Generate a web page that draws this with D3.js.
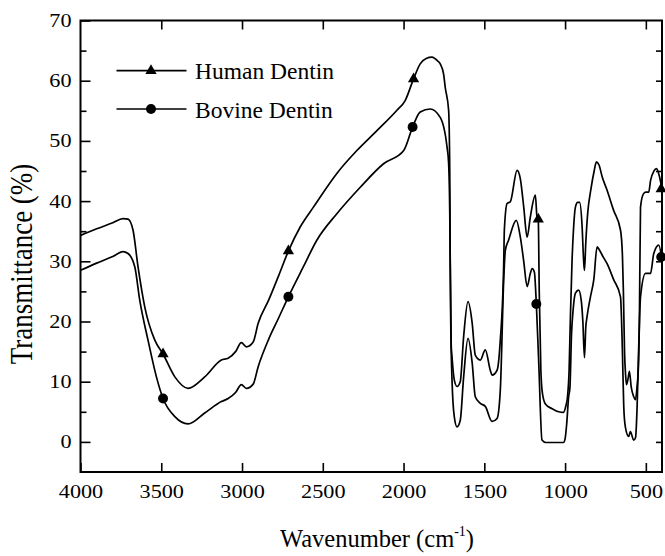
<!DOCTYPE html>
<html>
<head>
<meta charset="utf-8">
<script src="https://cdn.jsdelivr.net/npm/d3@7"></script>
<style>
  html, body { margin: 0; padding: 0; background: #fff; }
  svg { display: block; }
</style>
</head>
<body>
<svg id="chart" width="665" height="556"></svg>
<script>
// FTIR spectra, values (wavenumber in cm-1, transmittance in %)
const humanWn = [4000, 3900, 3800, 3737, 3706, 3675, 3644, 3602, 3540, 3489, 3416, 3334, 3231, 3128, 3086, 3040, 3004, 2973, 2931, 2900,
  2836, 2775, 2713, 2640, 2558, 2413, 2289, 2165, 2041, 1990, 1938, 1897, 1860, 1824, 1790, 1773, 1752, 1742, 1721, 1714,
  1711, 1705, 1700, 1686, 1669, 1649, 1628, 1601, 1575, 1556, 1525, 1494, 1463, 1452, 1421, 1401, 1380, 1376, 1359, 1339,
  1297, 1277, 1256, 1235, 1215, 1184, 1174, 1166, 1160, 1150, 1140, 1122, 1080, 1040, 1010, 995, 985, 975, 967, 957,
  947, 936, 922, 910, 895, 885, 880, 872, 860, 840, 820, 806, 790, 770, 740, 700, 657, 645, 639, 632,
  625, 620, 610, 602, 590, 575, 564, 555, 546, 540, 533, 515, 500, 482, 471, 450, 434, 415, 400];
const humanT = [34.3, 35.4, 36.4, 37.1, 37.0, 35.2, 29.1, 22.4, 16.9, 14.6, 10.8, 8.9, 10.8, 13.6, 13.9, 15.0, 16.5, 15.8, 16.6, 19.7,
  23.5, 27.5, 31.7, 35.7, 39.0, 44.6, 48.4, 51.7, 55.1, 56.7, 60.3, 62.8, 63.7, 63.9, 63.3, 62.8, 61.1, 58.9, 55.1, 45.0,
  30.0, 16.0, 14.1, 10.3, 9.2, 10.0, 17.5, 23.3, 19.7, 14.4, 13.6, 15.3, 11.9, 11.1, 11.9, 16.9, 29.6, 35.2, 39.6, 39.9,
  45.1, 43.7, 39.0, 34.0, 37.4, 41.0, 37.4, 37.0, 25.0, 12.0, 8.0, 6.3, 5.5, 5.0, 4.9, 6.0, 7.5, 12.0, 20.8, 30.0,
  35.7, 39.0, 39.8, 39.8, 36.0, 30.0, 28.5, 33.0, 38.0, 42.0, 45.0, 46.5, 46.0, 44.0, 41.8, 38.5, 35.2, 31.0, 25.0, 15.0,
  11.0, 9.5, 10.5, 11.7, 9.0, 7.5, 7.0, 9.0, 12.5, 20.0, 39.0, 41.2, 41.5, 41.5, 43.4, 45.0, 45.4, 44.0, 42.0];

const bovineWn = [4000, 3900, 3800, 3737, 3706, 3664, 3633, 3582, 3530, 3489, 3416, 3334, 3231, 3128, 3086, 3040, 3004, 2973, 2931, 2900,
  2836, 2775, 2713, 2620, 2537, 2413, 2268, 2124, 1999, 1944, 1897, 1835, 1773, 1731, 1721, 1714, 1708, 1700, 1686, 1669,
  1649, 1628, 1601, 1575, 1556, 1525, 1494, 1452, 1421, 1401, 1380, 1370, 1350, 1302, 1277, 1256, 1235, 1215, 1204, 1190,
  1178, 1163, 1143, 1120, 1010, 1000, 990, 978, 970, 960, 950, 936, 916, 900, 890, 880, 872, 864, 843, 822,
  802, 790, 770, 740, 700, 657, 645, 637, 627, 606, 596, 575, 564, 554, 545, 533, 502, 471, 451, 420, 400];
const bovineT = [28.5, 29.7, 30.8, 31.6, 31.3, 29.1, 23.5, 16.9, 10.8, 7.2, 4.2, 3.0, 4.8, 6.7, 7.2, 8.2, 9.5, 8.9, 9.6, 12.5,
  17.0, 20.5, 24.1, 29.1, 33.5, 37.9, 42.3, 46.2, 48.4, 52.3, 54.8, 55.3, 53.9, 49.0, 46.3, 38.0, 20.0, 10.3, 4.2, 2.5,
  3.6, 10.8, 17.2, 13.1, 7.5, 6.4, 5.9, 3.4, 3.9, 8.6, 26.9, 31.8, 33.5, 36.8, 34.0, 30.0, 25.8, 28.0, 28.8, 28.2,
  22.9, 13.1, 0.3, -0.1, -0.1, 0.5, 3.0, 7.5, 9.0, 18.0, 22.0, 24.7, 25.2, 23.5, 20.0, 14.0, 19.0, 20.8, 24.1, 27.0,
  32.4, 32.0, 31.0, 29.6, 27.0, 24.1, 15.0, 6.0, 2.5, 0.9, 1.7, 0.3, 0.7, 5.9, 15.0, 24.1, 28.0, 28.0, 31.3, 32.7, 30.0];

// symbols drawn on the curves
const humanMarkWn = [3489, 2713, 1938, 1166, 405];
const humanMarkT = [14.6, 31.7, 60.3, 37.0, 42.0];
const bovineMarkWn = [3489, 2713, 1944, 1178, 405];
const bovineMarkT = [7.2, 24.1, 52.3, 22.9, 30.7];

const seriesNames = ["Human Dentin", "Bovine Dentin"];
const xTicks = [4000, 3500, 3000, 2500, 2000, 1500, 1000, 500];
const yTicks = [0, 10, 20, 30, 40, 50, 60, 70];
const yMinorTicks = [5, 15, 25, 35, 45, 55, 65];

const W = 665, H = 556;
const pl = 80.5, pr = 662, pt = 20.5, pb = 472;
const serif = "'Liberation Serif', 'Times New Roman', serif";
const stretch = 1.17;

const svg = d3.select("#chart");
svg.append("rect").attr("width", W).attr("height", H).attr("fill", "#fff");

const x = d3.scaleLinear().domain([4000, 400]).range([pl, pr]);
const y = d3.scaleLinear().domain([-5, 70]).range([pb, pt]);

svg.append("defs").append("clipPath").attr("id", "plotClip")
  .append("rect").attr("x", pl).attr("y", pt).attr("width", pr - pl).attr("height", pb - pt);

// axes, ticks pointing inward
const gx = svg.append("g").attr("transform", `translate(0,${pb})`)
  .call(d3.axisBottom(x).tickValues(xTicks).tickSize(-9).tickPadding(13).tickFormat(d3.format("d")));
gx.selectAll("text").attr("transform", `scale(${stretch},1)`);

svg.append("g").attr("transform", `translate(0,${pt})`)
  .call(d3.axisTop(x).tickValues(xTicks.slice(1)).tickSize(-9).tickFormat(""));

const gy = svg.append("g").attr("transform", `translate(${pl},0)`)
  .call(d3.axisLeft(y).tickValues(yTicks).tickSize(-10).tickPadding(0).tickFormat(d3.format("d")));
gy.selectAll("text").attr("x", 0).attr("transform", `translate(-9,0) scale(${stretch},1)`);

svg.append("g").attr("transform", `translate(${pl},0)`)
  .call(d3.axisLeft(y).tickValues(yMinorTicks).tickSize(-6).tickFormat(""));

svg.append("g").attr("transform", `translate(${pr},0)`)
  .call(d3.axisRight(y).tickValues(yTicks.concat(yMinorTicks).filter(v => v < 70)).tickSize(-6).tickFormat(""));

svg.selectAll(".domain").remove();
svg.selectAll(".tick line").attr("stroke", "#000").attr("stroke-width", 1.6);
svg.selectAll(".tick text").attr("font-family", serif).attr("font-size", 19).attr("fill", "#000");

svg.append("rect")
  .attr("x", pl).attr("y", pt).attr("width", pr - pl).attr("height", pb - pt)
  .attr("fill", "none").attr("stroke", "#000").attr("stroke-width", 2);

// curves
const line = d3.line().x(d => x(d[0])).y(d => y(d[1])).curve(d3.curveMonotoneX);
const plot = svg.append("g").attr("clip-path", "url(#plotClip)");

plot.append("path").datum(d3.zip(humanWn, humanT))
  .attr("d", line).attr("fill", "none").attr("stroke", "#000").attr("stroke-width", 1.7).attr("stroke-linejoin", "round");
plot.append("path").datum(d3.zip(bovineWn, bovineT))
  .attr("d", line).attr("fill", "none").attr("stroke", "#000").attr("stroke-width", 1.7).attr("stroke-linejoin", "round");

const tri = d3.symbol().type(d3.symbolTriangle).size(55);
const dot = d3.symbol().type(d3.symbolCircle).size(78);

svg.append("g").selectAll("path").data(d3.zip(humanMarkWn, humanMarkT)).join("path")
  .attr("d", tri).attr("transform", d => `translate(${x(d[0])},${y(d[1])})`).attr("fill", "#000");
svg.append("g").selectAll("path").data(d3.zip(bovineMarkWn, bovineMarkT)).join("path")
  .attr("d", dot).attr("transform", d => `translate(${x(d[0])},${y(d[1])})`).attr("fill", "#000");

// legend
const legend = svg.append("g");
const legendY = [70.7, 109];
[tri, dot].forEach((sym, i) => {
  legend.append("line").attr("x1", 116.5).attr("x2", 186.5).attr("y1", legendY[i]).attr("y2", legendY[i])
    .attr("stroke", "#000").attr("stroke-width", 1.7);
  legend.append("path").attr("d", sym).attr("transform", `translate(151,${legendY[i]})`).attr("fill", "#000");
  legend.append("text").attr("x", 195).attr("y", legendY[i] + 8.5)
    .attr("font-family", serif).attr("font-size", 23.5).attr("fill", "#000")
    .text(seriesNames[i]);
});

// axis titles
const xt = svg.append("text").attr("x", 377).attr("y", 547).attr("text-anchor", "middle")
  .attr("font-family", serif).attr("font-size", 24.5).attr("fill", "#000");
xt.append("tspan").text("Wavenumber (cm");
xt.append("tspan").attr("font-size", 14).attr("dy", -11).text("-1");
xt.append("tspan").attr("dy", 11).text(")");

svg.append("text")
  .attr("transform", `translate(32,264) rotate(-90) scale(1,${stretch})`)
  .attr("text-anchor", "middle")
  .attr("font-family", serif).attr("font-size", 27).attr("fill", "#000")
  .text("Transmittance (%)");
</script>
</body>
</html>
